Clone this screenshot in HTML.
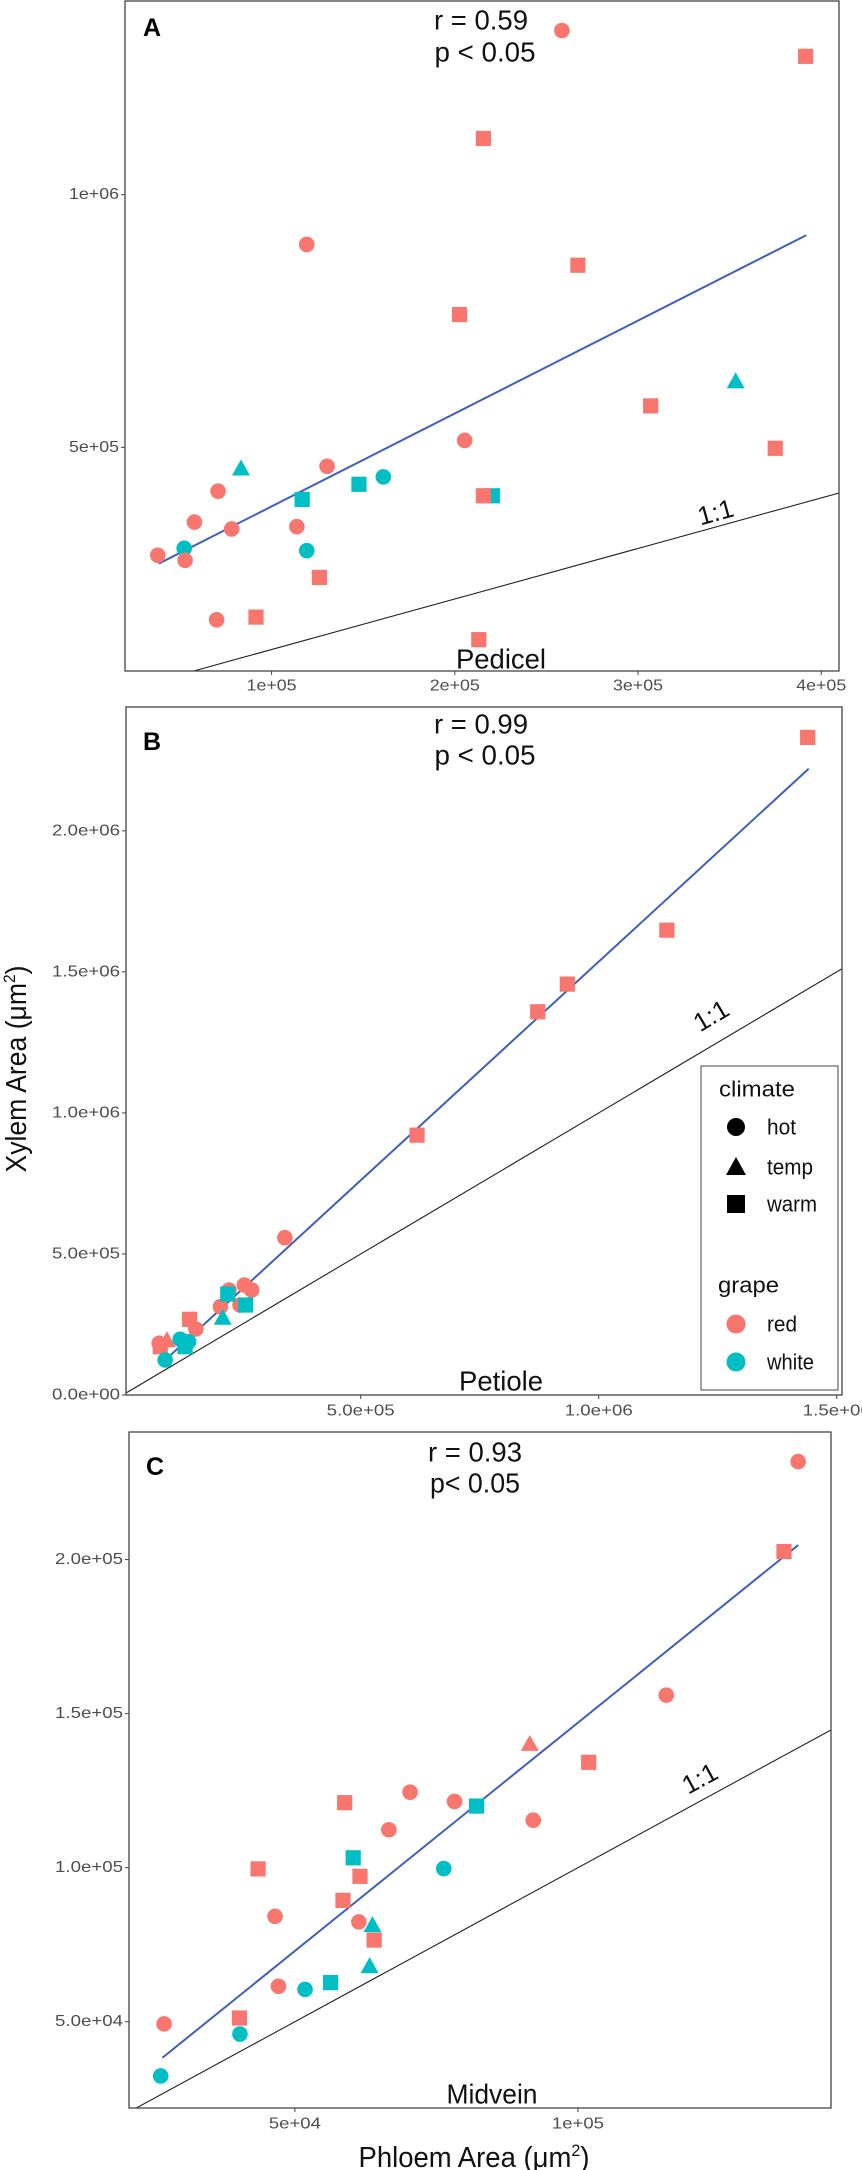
<!DOCTYPE html>
<html><head><meta charset="utf-8">
<style>
html,body{margin:0;padding:0;background:#fff;}
svg{display:block;font-family:"Liberation Sans",Arial,sans-serif;}
</style></head>
<body>
<svg id="fig" width="862" height="2170" viewBox="0 0 862 2170" xmlns="http://www.w3.org/2000/svg">
<text x="0" y="0" transform="translate(26,1069) rotate(-90)" text-anchor="middle" font-size="29" fill="#111" textLength="207" lengthAdjust="spacingAndGlyphs">Xylem Area (μm<tspan font-size="17" dy="-11">2</tspan><tspan dy="11">)</tspan></text>
<text x="474" y="2167" text-anchor="middle" font-size="29" fill="#111" textLength="231" lengthAdjust="spacingAndGlyphs">Phloem Area (μm<tspan font-size="17" dy="-11">2</tspan><tspan dy="11">)</tspan></text>
</svg>
<script>
// ---------- Panel A (Pedicel) ----------
const aPhloem = [258450,391500,215600,119200,267200,202600,353300,306900,205400,374900,83300,130300,161000,147700,220500,215600,70800,116700,57900,78200,113800,52300,119200,37900,52800,126100,70000,91500,213100];
const aXylem  = [1324800,1273700,1111300,901500,860400,762800,629600,582100,513700,498200,457100,462600,441600,427000,404200,404200,413300,396900,352200,338500,343100,300200,295600,286500,276500,242700,158800,164200,119500];
const aShape  = ['c','s','s','c','s','s','t','s','c','s','t','c','c','s','s','s','c','s','c','c','c','c','c','c','c','s','c','s','s'];
const aGrape  = ['r','r','r','r','r','r','w','r','r','r','w','r','w','w','w','r','r','w','r','r','r','w','w','r','r','r','r','r','r'];
const aTrend  = [38500,270100,391800,919700];
const aXTicks = [100000,200000,300000,400000];
const aXTickLabels = ['1e+05','2e+05','3e+05','4e+05'];
const aYTicks = [500000,1000000];
const aYTickLabels = ['5e+05','1e+06'];

// ---------- Panel B (Petiole) ----------
const bPhloem = [1438900,1143100,934000,871900,618400,340700,223400,255600,271000,246500,205400,220700,258400,210200,140400,153700,92900,76800,78900,120800,138400,131200,89300];
const bXylem  = [2331200,1647900,1456600,1358500,921200,557600,372200,389900,372200,319000,313000,358000,319000,271900,268400,234000,192500,183300,171200,197500,189000,171200,124100];
const bShape  = ['s','s','s','s','s','c','c','c','c','c','c','s','s','t','s','c','t','c','s','c','c','s','c'];
const bGrape  = ['r','r','r','r','r','r','r','r','r','r','r','w','w','w','r','r','r','r','r','w','w','w','w'];
const bTrend  = [82900,114100,1441000,2220200];
const bXTicks = [500000,1000000,1500000];
const bXTickLabels = ['5.0e+05','1.0e+06','1.5e+06'];
const bYTicks = [0,500000,1000000,1500000,2000000];
const bYTickLabels = ['0.0e+00','5.0e+05','1.0e+06','1.5e+06','2.0e+06'];

// ---------- Panel C (Midvein) ----------
const cPhloem = [138900,136400,115600,91500,101900,70350,58800,78200,82100,92100,66600,60300,43500,76300,61500,58500,46500,61300,63700,64000,63200,56300,47100,51800,40200,26900,40300,26300];
const cXylem  = [231800,202600,156000,140000,134200,124500,121100,121500,120000,115400,112300,103200,99600,99700,97200,89400,84200,82400,81200,76500,67900,62700,61500,60500,51200,49300,46000,32400];
const cShape  = ['c','s','c','t','s','c','s','c','s','c','c','s','s','c','s','s','c','c','t','s','t','s','c','c','s','c','c','c'];
const cGrape  = ['r','r','r','r','r','r','r','r','w','r','r','w','r','w','r','r','r','r','w','r','w','w','r','w','r','r','w','w'];
const cTrend  = [26600,38300,138900,204700];
const cXTicks = [50000,100000];
const cXTickLabels = ['5e+04','1e+05'];
const cYTicks = [50000,100000,150000,200000];
const cYTickLabels = ['5.0e+04','1.0e+05','1.5e+05','2.0e+05'];

const NS = 'http://www.w3.org/2000/svg';
const svg = document.getElementById('fig');
const COL = {r:'#F8766D', w:'#00BFC4'};

function mk(tag, attrs, parent){
  const e = document.createElementNS(NS, tag);
  for (const k in attrs) e.setAttribute(k, attrs[k]);
  (parent||svg).appendChild(e);
  return e;
}

function drawPanel(cfg){
  const g = mk('g', {});
  
  
  const F = cfg.frame;
  const sx = v => F.l + (v - cfg.xd[0]) / (cfg.xd[1] - cfg.xd[0]) * (F.r - F.l);
  const sy = v => F.b - (v - cfg.yd[0]) / (cfg.yd[1] - cfg.yd[0]) * (F.b - F.t);

  // clip
  const cp = mk('clipPath', {id: 'clip-' + cfg.key}, g);
  mk('rect', {x:F.l, y:F.t, width:F.r-F.l, height:F.b-F.t}, cp);

  // 1:1 line
  const lo = Math.max(cfg.xd[0], cfg.yd[0]), hi = Math.min(cfg.xd[1], cfg.yd[1]);
  const one = mk('line', {x1:sx(lo), y1:sy(lo), x2:sx(hi), y2:sy(hi), stroke:'#222', 'stroke-width':1.1, 'clip-path':'url(#clip-'+cfg.key+')'}, g);
  
  
  const ang = Math.atan2(sy(hi) - sy(lo), sx(hi) - sx(lo)) * 180 / Math.PI;
  const lx = sx(cfg.oneLabel[0]), ly = sy(cfg.oneLabel[1]);
  const ol = mk('text', {x:0, y:0, transform:'translate('+lx+','+ly+') rotate('+ang+')', 'text-anchor':'middle', 'dominant-baseline':'central', 'font-size':26, fill:'#111'}, g);
  ol.textContent = '1:1';
  
  

  // trend line
  const t = cfg.trend;
  const tl = mk('line', {x1:sx(t[0]), y1:sy(t[1]), x2:sx(t[2]), y2:sy(t[3]), stroke:'#3F5FBF', 'stroke-width':2}, g);
  
  

  // points
  for (let i = 0; i < cfg.px.length; i++){
    const cx = sx(cfg.px[i]), cy = sy(cfg.py[i]), fill = COL[cfg.grape[i]];
    let el;
    if (cfg.shape[i] === 'c') el = mk('circle', {cx:cx, cy:cy, r:7.8, fill:fill}, g);
    else if (cfg.shape[i] === 's') el = mk('rect', {x:cx-7.6, y:cy-7.6, width:15.2, height:15.2, fill:fill}, g);
    else el = mk('polygon', {points:(cx-9)+','+(cy+6.5)+' '+(cx+9)+','+(cy+6.5)+' '+cx+','+(cy-9.5), fill:fill}, g);
    
    
  }

  // frame
  const fr = mk('rect', {x:F.l, y:F.t, width:F.r-F.l, height:F.b-F.t, fill:'none', stroke:'#444', 'stroke-width':1.3}, g);
  
  

  // ticks
  cfg.xt.forEach((v, i) => {
    const x = sx(v);
    mk('line', {x1:x, y1:F.b, x2:x, y2:F.b+4, stroke:'#444', 'stroke-width':1}, g);
    const tx = mk('text', {x:x, y:cfg.xLabY, 'text-anchor':'middle', 'dominant-baseline':'central', 'font-size':16, fill:'#4d4d4d', textLength:cfg.xtw, lengthAdjust:'spacingAndGlyphs'}, g);
    tx.textContent = cfg.xtl[i];
    
    
  });
  cfg.yt.forEach((v, i) => {
    const y = sy(v);
    mk('line', {x1:F.l-4, y1:y, x2:F.l, y2:y, stroke:'#444', 'stroke-width':1}, g);
    const ty = mk('text', {x:F.l-6, y:y, 'text-anchor':'end', 'dominant-baseline':'central', 'font-size':16, fill:'#4d4d4d', textLength:cfg.ytw, lengthAdjust:'spacingAndGlyphs'}, g);
    ty.textContent = cfg.ytl[i];
    
    
  });

  // annotations
  const L = mk('text', {x:cfg.letter[0], y:cfg.letter[1], 'dominant-baseline':'central', 'font-size':25, 'font-weight':'bold', fill:'#000'}, g);
  L.textContent = cfg.key.toUpperCase();
  
  
  const r1 = mk('text', {x:cfg.rx, y:cfg.ry[0], 'text-anchor':'middle', 'dominant-baseline':'central', 'font-size':28, fill:'#111', textLength:94, lengthAdjust:'spacingAndGlyphs'}, g);
  r1.textContent = cfg.rtext;
  
  
  const p1 = mk('text', {x:cfg.rx + cfg.pdx, y:cfg.ry[1], 'text-anchor':'middle', 'dominant-baseline':'central', 'font-size':28, fill:'#111', textLength:cfg.pw, lengthAdjust:'spacingAndGlyphs'}, g);
  p1.textContent = cfg.ptext;
  
  
  const tn = mk('text', {x:cfg.tissue[0], y:cfg.tissue[1], 'text-anchor':'middle', 'dominant-baseline':'central', 'font-size':28, fill:'#111', textLength:cfg.tissue[2], lengthAdjust:'spacingAndGlyphs'}, g);
  tn.textContent = cfg.tissueName;
  
  
}

drawPanel({key:'a', frame:{l:125,r:839,t:1,b:671}, xd:[20000,409700], yd:[57500,1383200],
  px:aPhloem, py:aXylem, shape:aShape, grape:aGrape, trend:aTrend,
  xt:aXTicks, xtl:aXTickLabels, yt:aYTicks, ytl:aYTickLabels, xLabY:686, xtw:50, ytw:50,
  oneLabel:[342300,372000], letter:[143,28], rx:481, ry:[20,52], pdx:4, rtext:'r = 0.59', ptext:'p < 0.05', pw:101,
  tissue:[501,659,90], tissueName:'Pedicel'});
drawPanel({key:'b', frame:{l:126,r:842,t:707,b:1395}, xd:[7000,1511000], yd:[0,2439000],
  px:bPhloem, py:bXylem, shape:bShape, grape:bGrape, trend:bTrend,
  xt:bXTicks, xtl:bXTickLabels, yt:bYTicks, ytl:bYTickLabels, xLabY:1411, xtw:68, ytw:68,
  oneLabel:[1236000,1345000], letter:[143,742], rx:481, ry:[724,755], pdx:4, rtext:'r = 0.99', ptext:'p < 0.05', pw:101,
  tissue:[501,1381,84], tissueName:'Petiole'});
drawPanel({key:'c', frame:{l:129,r:831,t:1432,b:2108}, xd:[20700,144700], yd:[22000,241400],
  px:cPhloem, py:cXylem, shape:cShape, grape:cGrape, trend:cTrend,
  xt:cXTicks, xtl:cXTickLabels, yt:cYTicks, ytl:cYTickLabels, xLabY:2124, xtw:52, ytw:68,
  oneLabel:[121500,129000], letter:[146,1467], rx:475, ry:[1452,1483], pdx:0, rtext:'r = 0.93', ptext:'p< 0.05', pw:90,
  tissue:[492,2094,91], tissueName:'Midvein'});

// ---------- Legend (in panel B) ----------
const lg = mk('g', {});


mk('rect', {x:701, y:1066, width:137, height:324, fill:'#fff', stroke:'#444', 'stroke-width':1}, lg);
function ltext(s, x, y, w, name){
  const e = mk('text', {x:x, y:y, 'dominant-baseline':'central', 'font-size':22, fill:'#111', textLength:w, lengthAdjust:'spacingAndGlyphs'}, lg);
  e.textContent = s;
  
  
  return e;
}
ltext('climate', 719, 1089, 76, 'legend-title-climate');
ltext('grape', 718, 1285, 61, 'legend-title-grape');
const hot = mk('circle', {cx:736, cy:1127, r:9, fill:'#000'}, lg);


ltext('hot', 767, 1127, 29, 'legend-entry-hot');
const temp = mk('polygon', {points:'726,1175 746,1175 736,1157', fill:'#000'}, lg);


ltext('temp', 767, 1167, 46, 'legend-entry-temp');
const warm = mk('rect', {x:727, y:1195, width:18, height:18, fill:'#000'}, lg);


ltext('warm', 767, 1204, 50, 'legend-entry-warm');
const red = mk('circle', {cx:736, cy:1324, r:9.5, fill:'#F8766D'}, lg);


ltext('red', 767, 1324, 30, 'legend-entry-red');
const white = mk('circle', {cx:736, cy:1362, r:9.5, fill:'#00BFC4'}, lg);


ltext('white', 767, 1362, 47, 'legend-entry-white');
</script>
</body></html>
